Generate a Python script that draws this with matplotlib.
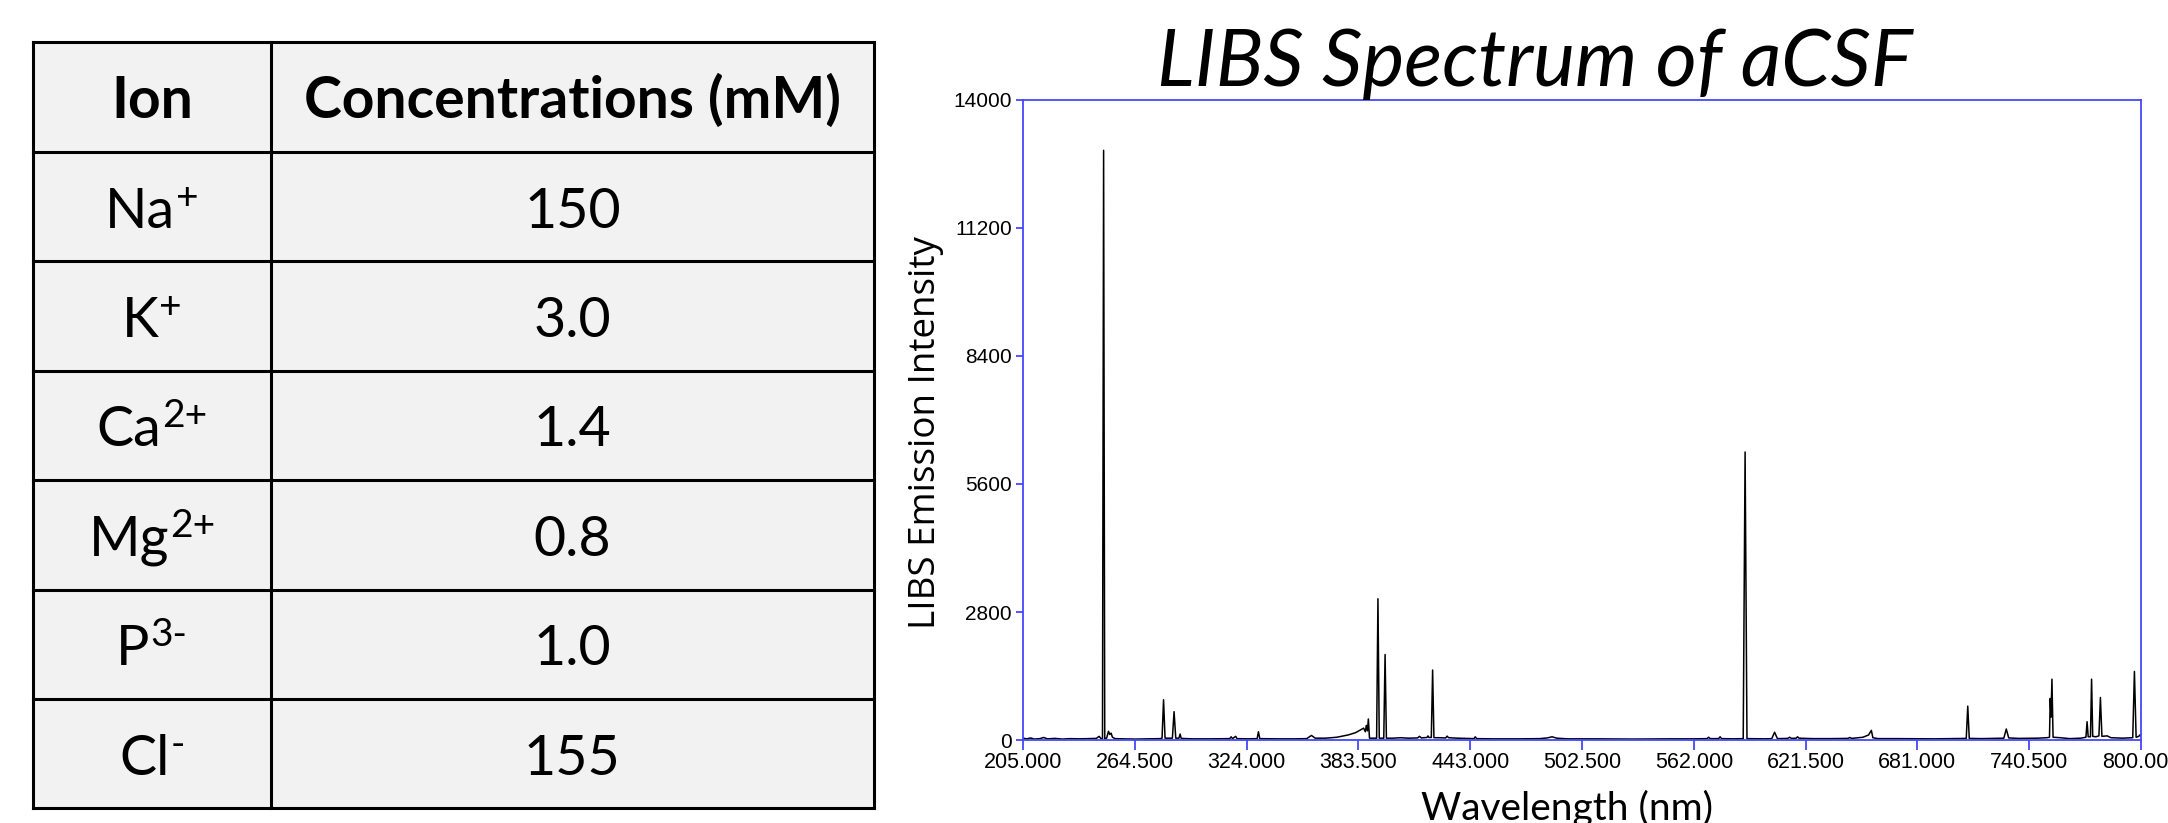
import matplotlib
matplotlib.use("Agg")
import matplotlib.pyplot as plt
from matplotlib.patches import Rectangle

# ---------------- data ----------------
ion_names = ["Na", "K", "Ca", "Mg", "P", "Cl"]
ion_charges = ["+", "+", "2+", "2+", "3-", "-"]
concentrations = ["150", "3.0", "1.4", "0.8", "1.0", "155"]
table_header = ["Ion", "Concentrations (mM)"]

wavelength = [205, 207, 209, 211, 214, 216, 218, 222, 226, 230, 235, 240, 244, 245.5, 246.5,
              247.3, 247.9, 248.5, 249.5, 250.5, 251.2, 251.9, 252.6, 254, 258, 265, 272,
              278, 279.0, 279.8, 280.6, 284.5, 285.4, 286.3, 288.0, 288.6, 289.2, 295, 305,
              315, 315.8, 316.5, 318.2, 318.9, 325, 329.6, 330.3, 331.0, 340, 350, 356,
              358.5, 360.5, 366, 372, 378, 382, 385, 386.3, 387.2, 387.7, 388.3, 388.8,
              389.4, 393.2, 393.9, 394.6, 397.0, 397.7, 398.4, 402, 406, 410, 415, 416, 417,
              420, 420.5, 421, 422.3, 423.0, 423.7, 426, 430, 430.7, 431.5, 436, 440, 445,
              445.7, 446.4, 455, 470, 480, 484, 486.6, 489, 495, 510, 530, 550, 562, 569,
              569.9, 570.7, 575.2, 576, 576.8, 583, 588.3, 589.3, 590.3, 600, 603.5, 605,
              606.5, 612, 613, 614, 616.5, 617.2, 618, 625, 635, 644, 645, 646, 652, 655,
              656.5, 657.3, 660, 670, 690, 700, 707, 707.8, 708.6, 715, 727, 728.3, 729.6,
              735, 745, 750, 751.3, 751.7, 752.1, 752.6, 753.2, 757, 762, 768, 770.7, 771.3,
              771.9, 773.1, 773.7, 774.3, 776, 777.6, 778.4, 779.2, 782, 784, 790, 795.6,
              796.5, 797.4, 798.8, 799.7, 800]
intensity = [40, 25, 45, 20, 30, 55, 25, 35, 20, 30, 25, 30, 35, 80, 30,
             30, 12900, 30, 40, 190, 120, 150, 60, 30, 25, 20, 25,
             30, 40, 880, 40, 40, 620, 40, 40, 130, 35, 25, 25,
             30, 70, 30, 80, 30, 25, 30, 180, 30, 25, 25, 30,
             100, 40, 40, 60, 110, 160, 230, 260, 180, 320, 200, 460,
             40, 40, 3090, 40, 40, 1870, 40, 40, 50, 40, 45, 80, 45,
             55, 90, 55, 55, 1530, 50, 50, 45, 85, 50, 40, 35, 30,
             70, 30, 25, 25, 30, 45, 70, 40, 25, 25, 20, 25, 25, 30,
             60, 30, 30, 70, 30, 25, 30, 6300, 30, 25, 30, 170,
             30, 35, 60, 35, 40, 70, 40, 30, 30, 35, 55, 35, 60, 110,
             210, 50, 30, 30, 25, 30, 35, 740, 35, 30, 40, 240, 45,
             35, 40, 50, 60, 910, 500, 1330, 60, 50, 30, 40, 60, 400,
             70, 70, 1330, 80, 70, 90, 930, 80, 90, 50, 40, 50,
             1500, 60, 80, 120, 90]

x_ticks = [205.0, 264.5, 324.0, 383.5, 443.0, 502.5, 562.0, 621.5, 681.0, 740.5, 800.0]
y_ticks = [0, 2800, 5600, 8400, 11200, 14000]

# ---------------- figure ----------------
W, H = 2168, 823
fig = plt.figure(figsize=(W / 100, H / 100), dpi=100)

# table drawn in pixel coordinates on a full-figure overlay
tax = fig.add_axes([0, 0, 1, 1])
tax.set_xlim(0, W)
tax.set_ylim(H, 0)
tax.axis('off')

col_edges = [32.7, 271, 873.7]
row_edges = [42, 152, 261, 370.6, 479.8, 589.5, 699.2, 808.4]
tax.add_patch(Rectangle((col_edges[0], row_edges[0]), col_edges[-1] - col_edges[0],
                        row_edges[-1] - row_edges[0], facecolor='#f2f2f2', edgecolor='none'))
for yv in row_edges:
    tax.plot([col_edges[0], col_edges[-1]], [yv, yv], color='black', lw=2.2,
             solid_capstyle='projecting')
for xv in col_edges:
    tax.plot([xv, xv], [row_edges[0], row_edges[-1]], color='black', lw=2.2,
             solid_capstyle='projecting')

c0 = (col_edges[0] + col_edges[1]) / 2
c1 = (col_edges[1] + col_edges[2]) / 2
hb = 118
tax.text(c0, hb, table_header[0], ha='center', va='baseline', fontsize=41,
         fontweight='bold', family='Lato')
tax.text(c1, hb, table_header[1], ha='center', va='baseline', fontsize=41,
         fontweight='bold', family='Lato')

renderer = fig.canvas.get_renderer()
sx = tax.transData.get_matrix()[0, 0]  # display px per data unit in x
for i, (name, charge, conc) in enumerate(zip(ion_names, ion_charges, concentrations)):
    center = (row_edges[i + 1] + row_edges[i + 2]) / 2
    base = center + 21
    t = tax.text(0, base, name, ha='left', va='baseline', fontsize=40, family='Lato')
    s = tax.text(0, base - 19, charge, ha='left', va='baseline', fontsize=28, family='Lato')
    wb = t.get_window_extent(renderer=renderer).width / sx
    ws = s.get_window_extent(renderer=renderer).width / sx
    x0 = c0 - (wb + ws + 1) / 2
    t.set_x(x0)
    s.set_x(x0 + wb + 1)
    tax.text(c1, base, conc, ha='center', va='baseline', fontsize=40, family='Lato')

# spectrum axes
left, right, top, bottom = 1023, 2141, 100, 740
ax = fig.add_axes([left / W, 1 - bottom / H, (right - left) / W, (bottom - top) / H])
blue = '#4646ff'
ax.plot(wavelength, intensity, color='black', lw=1.1)
ax.set_xlim(205, 800)
ax.set_ylim(0, 14000)
ax.set_xticks(x_ticks)
ax.set_xticklabels([f"{v:.3f}" for v in x_ticks])
ax.set_yticks(y_ticks)
ax.set_yticklabels([str(v) for v in y_ticks])
for sp in ax.spines.values():
    sp.set_color(blue)
    sp.set_linewidth(1.3)
ax.tick_params(axis='x', direction='out', length=7, width=1.3, color=blue, pad=2,
               labelsize=15.5, labelfontfamily='Liberation Sans')
ax.tick_params(axis='y', direction='out', length=5, width=1.3, color=blue, pad=3,
               labelsize=15, labelfontfamily='Liberation Sans')

fig.text(1535 / W, 1 - 86 / H, "LIBS Spectrum of aCSF", ha='center', va='baseline',
         fontsize=57, style='italic', family='Lato')
fig.text(926 / W, 1 - 433 / H, "LIBS Emission Intensity", rotation=90, ha='center',
         va='center', fontsize=26.5, family='Open Sans')
fig.text(1567 / W, 1 - 820 / H, "Wavelength (nm)", ha='center', va='baseline',
         fontsize=28, family='Lato')

fig.savefig("out.png", dpi=100)
